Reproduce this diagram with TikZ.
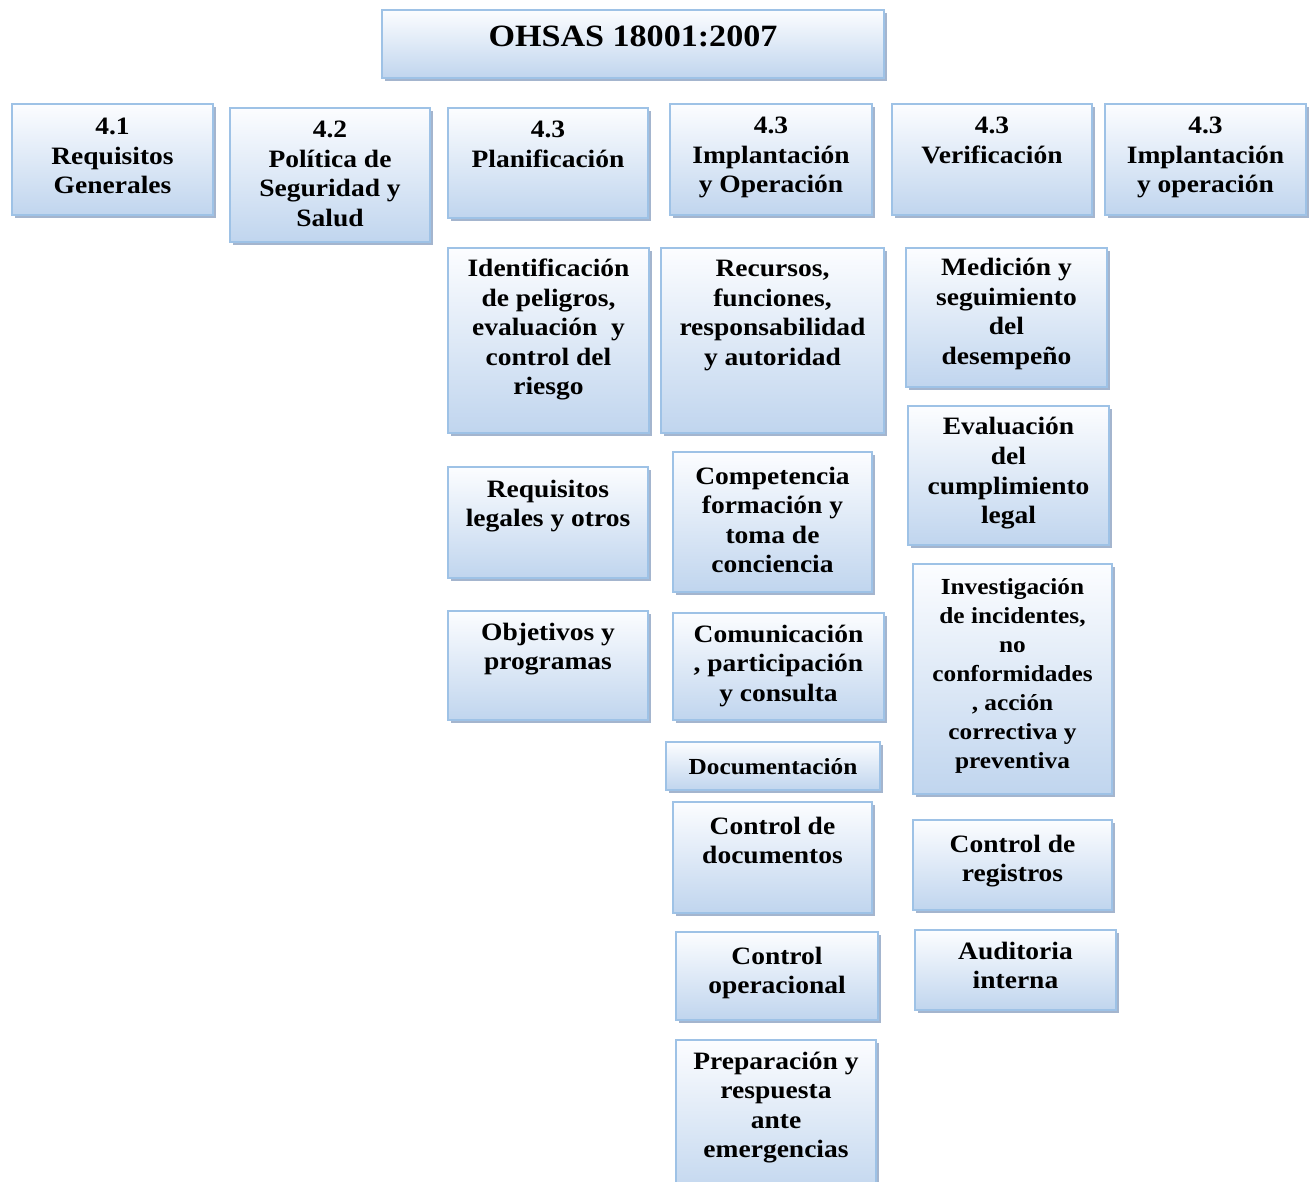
\documentclass[tikz,border=0pt]{standalone}
\usepackage{fontspec}
\setmainfont[FakeStretch=1.1]{Liberation Serif}
\usetikzlibrary{shadows}

\definecolor{boxtop}{RGB}{252,253,255}
\definecolor{boxbottom}{RGB}{192,213,238}
\definecolor{boxline}{RGB}{158,194,230}
\definecolor{boxshadow}{RGB}{125,150,185}

\tikzset{
  panel/.style={rectangle, draw=boxline, line width=1.6pt,
    top color=boxtop, bottom color=boxbottom, inner sep=0pt, outer sep=0pt,
    drop shadow={shadow xshift=2.5pt, shadow yshift=-3pt, fill=boxshadow, opacity=0.7}},
  label/.style={inner sep=0pt, align=flush center, anchor=base},
  regular/.style={font=\bfseries\fontsize{25}{29.5}\selectfont},
  compact/.style={font=\bfseries\fontsize{23}{29}\selectfont},
  headline/.style={font=\bfseries\fontsize{31}{36}\selectfont}
}

% \panelbox{name}{x1}{y1}{x2}{y2}{first baseline}{text style}{text}
\newcommand\panelbox[8]{%
  \node[panel, anchor=north west,
        minimum width={(#4-#2)*1pt}, minimum height={(#5-#3)*1pt}] (#1) at (#2,#3) {};
  \node[label, #7, text width={(#4-#2-6)*1pt}] (#1-text) at ({(#2+#4)/2},#6) {#8};
}

\begin{document}
\begin{tikzpicture}[x=1pt, y=-1pt]
\useasboundingbox (0,0) rectangle (1310,1182);
\clip (0,0) rectangle (1310,1182);

% title
\panelbox{title}{382}{10}{884}{78}{47}{headline}{OHSAS 18001:2007}

% clause headings
\panelbox{c41}{12}{104}{213}{215}{135}{regular}{4.1\\Requisitos\\Generales}
\panelbox{c42}{230}{108}{430}{242}{138}{regular}{4.2\\Política de\\Seguridad y\\Salud}
\panelbox{plan}{448}{108}{648}{218}{138}{regular}{4.3\\Planificación}
\panelbox{impl}{670}{104}{872}{215}{134}{regular}{4.3\\Implantación\\y Operación}
\panelbox{verif}{892}{104}{1092}{215}{134}{regular}{4.3\\Verificación}
\panelbox{implb}{1105}{104}{1306}{215}{134}{regular}{4.3\\Implantación\\y operación}

% planning column
\panelbox{ident}{448}{248}{649}{433}{277}{regular}{Identificación\\de peligros,\\evaluación\ \ y\\control del\\riesgo}
\panelbox{legal}{448}{467}{648}{578}{497}{regular}{Requisitos\\legales y otros}
\panelbox{obj}{448}{611}{648}{720}{640}{regular}{Objetivos y\\programas}

% implementation column
\panelbox{recur}{661}{248}{884}{433}{277}{regular}{Recursos,\\funciones,\\responsabilidad\\y autoridad}
\panelbox{compet}{673}{452}{872}{592}{484}{regular}{Competencia\\formación y\\toma de\\conciencia}
\panelbox{comun}{673}{613}{884}{720}{642}{regular}{Comunicación\\, participación\\y consulta}
\panelbox{docu}{666}{742}{880}{790}{774}{compact}{Documentación}
\panelbox{ctrldoc}{673}{802}{872}{913}{834}{regular}{Control de\\documentos}
\panelbox{ctrlop}{676}{932}{878}{1020}{964}{regular}{Control\\operacional}
\panelbox{emerg}{676}{1040}{876}{1200}{1069}{regular}{Preparación y\\respuesta\\ante\\emergencias}

% verification column
\panelbox{medic}{906}{248}{1107}{387}{276}{regular}{Medición y\\seguimiento\\del\\desempeño}
\panelbox{evalu}{908}{406}{1109}{545}{435}{regular}{Evaluación\\del\\cumplimiento\\legal}
\panelbox{invest}{913}{564}{1112}{794}{594}{compact}{Investigación\\de incidentes,\\no\\conformidades\\, acción\\correctiva y\\preventiva}
\panelbox{ctrlreg}{913}{820}{1112}{910}{852}{regular}{Control de\\registros}
\panelbox{audit}{915}{930}{1116}{1010}{959}{regular}{Auditoria\\interna}
\end{tikzpicture}
\end{document}
